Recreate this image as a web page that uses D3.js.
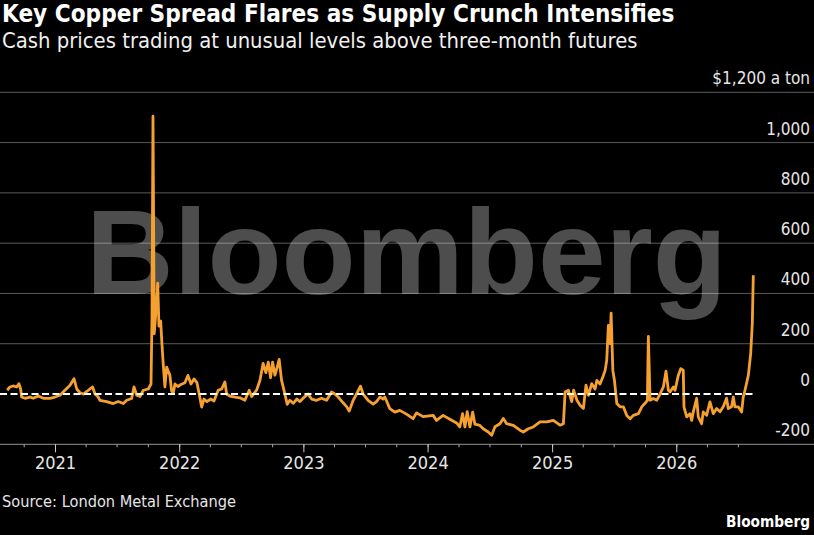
<!DOCTYPE html>
<html>
<head>
    <meta charset="utf-8">
    <title>Key Copper Spread</title>
    <script src="https://d3js.org/d3.v7.min.js"></script>
    <style>
        body { margin: 0; padding: 0; background: #000; }
        svg { display: block; }
    </style>
</head>
<body>
<div id="container"></div>
<script>
    // decimal years and cash-minus-3M spread, $ a ton
    var years = [
        2020.616,2020.638,2020.664,2020.692,2020.710,2020.724,2020.732,2020.759,2020.799,2020.825,
        2020.866,2020.906,2020.960,2021.000,2021.040,2021.080,2021.121,2021.153,2021.175,2021.201,
        2021.228,2021.268,2021.303,2021.322,2021.348,2021.362,2021.416,2021.469,2021.509,2021.550,
        2021.577,2021.617,2021.636,2021.658,2021.684,2021.711,2021.751,2021.773,2021.781,2021.789,
        2021.799,2021.813,2021.827,2021.837,2021.851,2021.861,2021.872,2021.885,2021.899,2021.912,
        2021.925,2021.939,2021.952,2021.966,2021.990,2022.014,2022.046,2022.070,2022.095,2022.119,
        2022.143,2022.159,2022.181,2022.199,2022.223,2022.256,2022.280,2022.314,2022.342,2022.368,
        2022.382,2022.408,2022.449,2022.489,2022.529,2022.564,2022.583,2022.623,2022.650,2022.676,
        2022.698,2022.717,2022.736,2022.752,2022.771,2022.789,2022.805,2022.824,2022.851,2022.870,
        2022.891,2022.918,2022.948,2022.972,2023.012,2023.038,2023.066,2023.106,2023.146,2023.187,
        2023.227,2023.253,2023.280,2023.320,2023.348,2023.369,2023.401,2023.428,2023.460,2023.481,
        2023.521,2023.562,2023.589,2023.616,2023.642,2023.656,2023.696,2023.736,2023.776,2023.830,
        2023.884,2023.911,2023.964,2024.045,2024.072,2024.125,2024.179,2024.233,2024.259,2024.281,
        2024.300,2024.318,2024.340,2024.362,2024.380,2024.420,2024.447,2024.487,2024.515,2024.541,
        2024.581,2024.608,2024.635,2024.688,2024.742,2024.769,2024.809,2024.849,2024.903,2024.957,
        2025.010,2025.064,2025.091,2025.105,2025.131,2025.158,2025.173,2025.200,2025.225,2025.252,
        2025.273,2025.292,2025.319,2025.346,2025.360,2025.386,2025.413,2025.427,2025.440,2025.453,
        2025.467,2025.475,2025.489,2025.502,2025.521,2025.547,2025.574,2025.601,2025.628,2025.654,
        2025.695,2025.722,2025.748,2025.767,2025.775,2025.789,2025.815,2025.842,2025.869,2025.896,
        2025.917,2025.936,2025.950,2025.976,2025.990,2026.016,2026.036,2026.056,2026.062,2026.084,
        2026.110,2026.124,2026.137,2026.164,2026.177,2026.204,2026.217,2026.244,2026.271,2026.298,
        2026.325,2026.352,2026.378,2026.405,2026.418,2026.445,2026.459,2026.472,2026.499,2026.526,
        2026.539,2026.553,2026.580,2026.599,2026.612,2026.620
    ];
    var spread = [
        15,28,32,28,41,20,-12,-17,-12,-17,
        -8,-17,-17,-12,-5,15,35,61,20,5,
        0,15,28,0,-12,-25,-30,-38,-30,-38,
        -25,-18,28,-5,-10,15,20,40,300,1105,
        240,330,441,270,290,200,115,28,107,90,
        75,12,2,40,30,38,45,74,40,60,
        45,5,-52,-20,-30,-20,-28,15,20,48,
        0,-8,-12,-15,-25,15,-10,15,54,122,
        85,127,65,127,75,107,138,55,0,-41,
        -25,-37,-20,-30,-10,0,-20,-25,-17,-25,
        8,0,-12,-35,-50,-68,-25,0,31,0,
        -25,-40,-30,-12,-20,-12,-58,-72,-65,-80,
        -98,-75,-90,-85,-105,-85,-100,-115,-131,-78,
        -131,-70,-131,-72,-120,-125,-138,-151,-164,-130,
        -118,-97,-118,-125,-144,-151,-138,-131,-111,-111,
        -105,-124,-118,8,15,-30,15,-25,-45,-57,
        35,-5,41,20,54,40,74,94,134,273,
        200,322,94,54,-38,-51,-51,-85,-98,-85,
        -78,-51,-37,-25,229,-25,-18,-25,0,28,
        91,15,8,28,15,74,101,95,-52,-91,
        -78,-105,-71,-17,-91,-118,-71,-85,-31,-78,
        -58,-71,-51,-17,-58,-51,-12,-51,-51,-72,
        -12,15,74,161,280,472
    ];
    var yTicks = [-200, 0, 200, 400, 600, 800, 1000, 1200];
    var yearLabels = [2021, 2022, 2023, 2024, 2025, 2026];

    var title = "Key Copper Spread Flares as Supply Crunch Intensifies";
    var subtitle = "Cash prices trading at unusual levels above three-month futures";
    var source = "Source: London Metal Exchange";

    var W = 814, H = 535;
    var font = "'Liberation Sans Narrow', 'DejaVu Sans Condensed', sans-serif";
    var wideFont = "'Liberation Sans', Arial, sans-serif";
    var orange = "#f6a12f";

    function toDate(t) {
        var yr = Math.floor(t);
        var s = new Date(yr, 0, 1), e = new Date(yr + 1, 0, 1);
        return new Date(+s + (t - yr) * (e - s));
    }

    var data = years.map((t, i) => ({ date: toDate(t), value: spread[i] }));

    var svg = d3.select("#container").append("svg")
        .attr("width", W)
        .attr("height", H)
        .style("background", "#000");

    // shrink/grow font so text spans a given width
    function fit(sel, w) {
        var fs = parseFloat(sel.style("font-size"));
        var len = sel.node().getComputedTextLength();
        sel.style("font-size", (fs * w / len) + "px");
    }

    var x = d3.scaleTime()
        .domain([new Date(2021, 0, 1), new Date(2026, 0, 1)])
        .range([55, 676.3]);
    x.domain([x.invert(0), x.invert(W)]).range([0, W]);

    var y = d3.scaleLinear()
        .domain([-200, 1200])
        .range([444.3, 92.3]);

    var lastDate = data[data.length - 1].date;

    // gridlines
    svg.append("g").selectAll("line")
        .data(yTicks.filter(v => v !== 0 && v !== -200))
        .enter().append("line")
        .attr("x1", 0).attr("x2", W)
        .attr("y1", d => y(d)).attr("y2", d => y(d))
        .attr("stroke", "#5a5a5a")
        .attr("stroke-width", 1);

    // watermark
    var wm = svg.append("text")
        .attr("x", 86)
        .attr("y", 293.5)
        .style("font-family", wideFont)
        .style("font-weight", "bold")
        .style("font-size", "120px")
        .style("fill", "#fff")
        .style("fill-opacity", 0.3)
        .text("Bloomberg");
    fit(wm, 641);

    // y labels
    svg.append("g").selectAll("text")
        .data(yTicks)
        .enter().append("text")
        .attr("x", 810)
        .attr("y", d => y(d) - 8)
        .attr("text-anchor", "end")
        .style("font-family", font)
        .style("font-size", "17px")
        .style("fill", "#e6e6e6")
        .text(d => d === 1200 ? "$1,200 a ton" : d3.format(",")(d).replace("\u2212", "-"));

    // series
    var line = d3.line()
        .x(d => x(d.date))
        .y(d => y(d.value));

    svg.append("path")
        .datum(data)
        .attr("d", line)
        .attr("fill", "none")
        .attr("stroke", orange)
        .attr("stroke-width", 2.8)
        .attr("stroke-linejoin", "round");

    // zero line
    svg.append("line")
        .attr("x1", 0).attr("x2", x(lastDate) + 2)
        .attr("y1", y(0)).attr("y2", y(0))
        .attr("stroke", "#fff")
        .attr("stroke-width", 2)
        .attr("stroke-dasharray", "7,3.5");

    // x axis
    var quarters = d3.timeMonth.every(3).range(x.domain()[0], lastDate);
    var yearDates = yearLabels.map(v => new Date(v, 0, 1));

    var axisG = svg.append("g").attr("transform", `translate(0,${y(-200)})`);
    axisG.append("line")
        .attr("x1", 0).attr("x2", W)
        .attr("stroke", "#777")
        .attr("stroke-width", 1.2);

    axisG.append("g")
        .call(d3.axisBottom(x).tickValues(quarters).tickSize(3).tickFormat(""))
        .call(g => g.select(".domain").remove())
        .call(g => g.selectAll("line").attr("stroke", "#aaa"));

    axisG.append("g")
        .call(d3.axisBottom(x).tickValues(yearDates).tickSize(8).tickFormat(d3.timeFormat("%Y")))
        .call(g => g.select(".domain").remove())
        .call(g => g.selectAll("line").attr("stroke", "#ccc"))
        .call(g => g.selectAll("text")
            .attr("y", 25)
            .attr("dy", null)
            .style("font-family", font)
            .style("font-size", "18px")
            .style("fill", "#e6e6e6"));

    // titles
    var t1 = svg.append("text")
        .attr("x", 2).attr("y", 22)
        .style("font-family", font)
        .style("font-weight", "bold")
        .style("font-size", "22px")
        .style("fill", "#fff")
        .text(title);
    fit(t1, 673);

    var t2 = svg.append("text")
        .attr("x", 2).attr("y", 48)
        .style("font-family", font)
        .style("font-size", "20px")
        .style("fill", "#f0f0f0")
        .text(subtitle);
    fit(t2, 636);

    var src = svg.append("text")
        .attr("x", 2).attr("y", 507)
        .style("font-family", font)
        .style("font-size", "16px")
        .style("fill", "#e6e6e6")
        .text(source);
    fit(src, 234);

    var logo = svg.append("text")
        .attr("x", 810).attr("y", 527)
        .attr("text-anchor", "end")
        .style("font-family", font)
        .style("font-weight", "bold")
        .style("font-size", "17px")
        .style("fill", "#fff")
        .text("Bloomberg");
    fit(logo, 84);
</script>
</body>
</html>
